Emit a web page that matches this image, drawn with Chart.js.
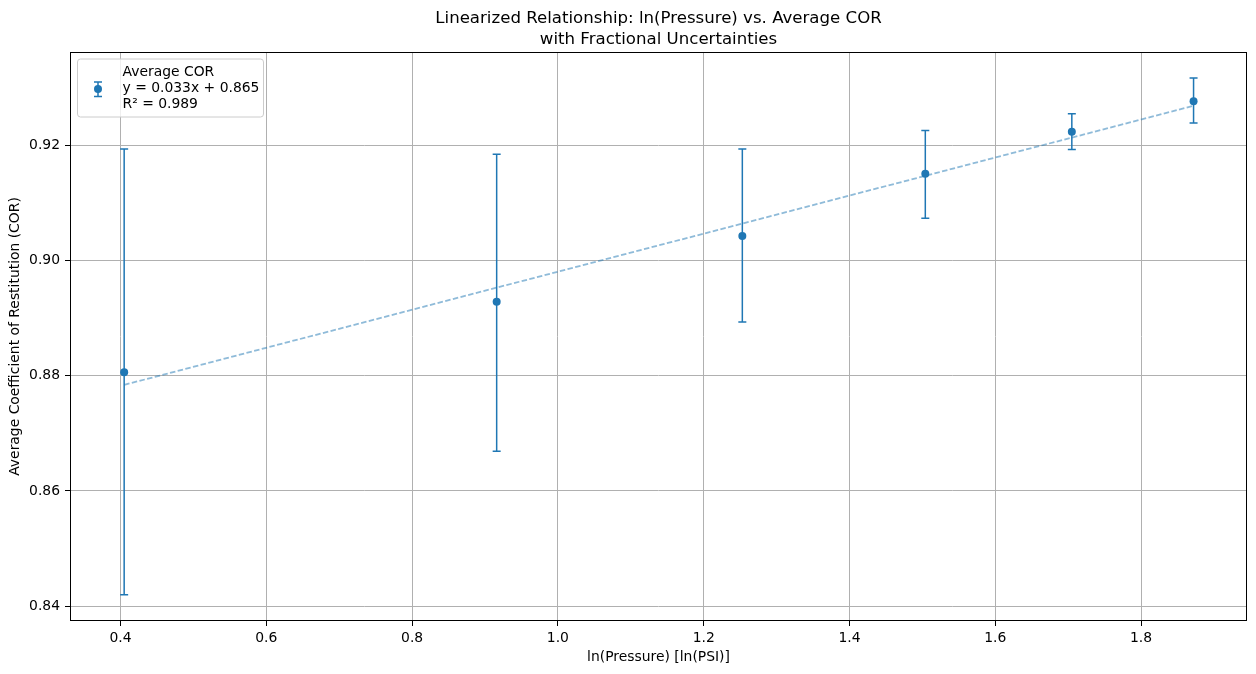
<!DOCTYPE html>
<html>
<head>
<meta charset="utf-8">
<script src="https://cdn.jsdelivr.net/npm/chart.js@4/dist/chart.umd.min.js"></script>
<style>
  html, body { margin: 0; padding: 0; background: #fff; }
  #wrap { width: 1256px; height: 674px; }
</style>
</head>
<body>
<div id="wrap"><canvas id="myChart" width="1256" height="674"></canvas></div>
<script>
// values
const lnPressure = [0.405, 0.916, 1.253, 1.504, 1.705, 1.872];
const avgCor = [0.8806, 0.8928, 0.9042, 0.9150, 0.9223, 0.9276];
const errTop = [0.9193, 0.9184, 0.9193, 0.9225, 0.9254, 0.9316];
const errBottom = [0.8420, 0.8669, 0.8893, 0.9073, 0.9192, 0.9238];
const fitX = [0.405, 1.872];
const fitY = [0.8784, 0.9268];
const xTicks = [0.4, 0.6, 0.8, 1.0, 1.2, 1.4, 1.6, 1.8];
const xTickLabels = ['0.4', '0.6', '0.8', '1.0', '1.2', '1.4', '1.6', '1.8'];
const yTicks = [0.84, 0.86, 0.88, 0.90, 0.92];
const yTickLabels = ['0.84', '0.86', '0.88', '0.90', '0.92'];
const legendLines = ['Average COR', 'y = 0.033x + 0.865', 'R\u00b2 = 0.989'];
const titleLines = ['Linearized Relationship: ln(Pressure) vs. Average COR', 'with Fractional Uncertainties'];

const blue = '#1f77b4';
const font = 'DejaVu Sans';

function errorBar(c, x, yTop, yBot, cap) {
    c.beginPath();
    c.moveTo(x, yTop);
    c.lineTo(x, yBot);
    c.moveTo(x - cap, yTop);
    c.lineTo(x + cap, yTop);
    c.moveTo(x - cap, yBot);
    c.lineTo(x + cap, yBot);
    c.stroke();
}

const errorBars = {
    id: 'errorBars',
    beforeDatasetsDraw(chart) {
        const c = chart.ctx;
        const xs = chart.scales.x, ys = chart.scales.y;
        c.save();
        c.strokeStyle = blue;
        c.lineWidth = 1.5;
        for (let i = 0; i < lnPressure.length; i++) {
            const px = xs.getPixelForValue(lnPressure[i]);
            errorBar(c, px, ys.getPixelForValue(errTop[i]), ys.getPixelForValue(errBottom[i]), 4);
        }
        c.restore();
    }
};

const frameAndText = {
    id: 'frameAndText',
    afterDraw(chart) {
        const c = chart.ctx;
        const a = chart.chartArea;
        c.save();
        // axes frame
        c.strokeStyle = '#000';
        c.lineWidth = 1;
        const l = Math.round(a.left) + 0.5, t = Math.round(a.top) + 0.5;
        const r = Math.round(a.right) - 0.5, b = Math.round(a.bottom) - 0.5;
        c.strokeRect(l, t, r - l, b - t);

        // title
        c.fillStyle = '#000';
        c.font = '16.6px "' + font + '"';
        c.textAlign = 'center';
        c.textBaseline = 'middle';
        const cx = (a.left + a.right) / 2;
        c.fillText(titleLines[0], cx, 18.5);
        c.fillText(titleLines[1], cx, 39.5);

        // legend
        const lx = a.left + 7.5, ly = a.top + 7, lw = 186, lh = 58;
        c.beginPath();
        c.roundRect(lx, ly, lw, lh, 3);
        c.fillStyle = 'rgba(255,255,255,0.8)';
        c.fill();
        c.strokeStyle = '#cccccc';
        c.lineWidth = 1;
        c.stroke();

        c.strokeStyle = blue;
        c.lineWidth = 1.5;
        errorBar(c, lx + 20.5, ly + 23, ly + 37.5, 4);
        c.beginPath();
        c.arc(lx + 20.5, ly + 30, 4, 0, Math.PI * 2);
        c.fillStyle = blue;
        c.fill();

        c.fillStyle = '#000';
        c.font = '13.9px "' + font + '"';
        c.textAlign = 'left';
        c.textBaseline = 'middle';
        legendLines.forEach((s, i) => c.fillText(s, lx + 45, ly + 13.5 + i * 16));
        c.restore();
    }
};

new Chart(document.getElementById('myChart'), {
    data: {
        datasets: [{
            type: 'line',
            label: 'fit',
            data: fitX.map((x, i) => ({ x: x, y: fitY[i] })),
            borderColor: 'rgba(31,119,180,0.5)',
            borderWidth: 1.8,
            borderDash: [5.5, 2.4],
            pointRadius: 0,
            fill: false
        }, {
            type: 'scatter',
            label: 'Average COR',
            data: lnPressure.map((x, i) => ({ x: x, y: avgCor[i] })),
            backgroundColor: blue,
            borderWidth: 0,
            pointRadius: 4,
            pointHoverRadius: 4
        }]
    },
    options: {
        responsive: false,
        animation: false,
        events: [],
        layout: { padding: { top: 52, right: 9, left: 0, bottom: 0 } },
        plugins: {
            legend: { display: false },
            title: { display: false },
            tooltip: { enabled: false }
        },
        scales: {
            x: {
                type: 'linear',
                min: 0.3307,
                max: 1.9453,
                afterBuildTicks: s => { s.ticks = xTicks.map(v => ({ value: v })); },
                afterFit: s => { s.height = 53; },
                ticks: {
                    callback: (v, i) => xTickLabels[i],
                    color: '#000',
                    font: { family: font, size: 13.9 },
                    padding: 4,
                    maxRotation: 0
                },
                grid: { color: '#b0b0b0', lineWidth: 1, tickColor: '#000', tickLength: 5, tickWidth: 1 },
                border: { display: false },
                title: {
                    display: true,
                    text: 'ln(Pressure) [ln(PSI)]',
                    color: '#000',
                    font: { family: font, size: 13.9 },
                    padding: { top: 0, bottom: 8 }
                }
            },
            y: {
                type: 'linear',
                min: 0.83745,
                max: 0.93613,
                afterBuildTicks: s => { s.ticks = yTicks.map(v => ({ value: v })); },
                afterFit: s => { s.width = 70; },
                ticks: {
                    callback: (v, i) => yTickLabels[i],
                    color: '#000',
                    font: { family: font, size: 13.9 },
                    padding: 5
                },
                grid: { color: '#b0b0b0', lineWidth: 1, tickColor: '#000', tickLength: 5, tickWidth: 1 },
                border: { display: false },
                title: {
                    display: true,
                    text: 'Average Coefficient of Restitution (COR)',
                    color: '#000',
                    font: { family: font, size: 13.9 },
                    padding: { top: 7.5, bottom: 0 }
                }
            }
        }
    },
    plugins: [errorBars, frameAndText]
});
</script>
</body>
</html>
